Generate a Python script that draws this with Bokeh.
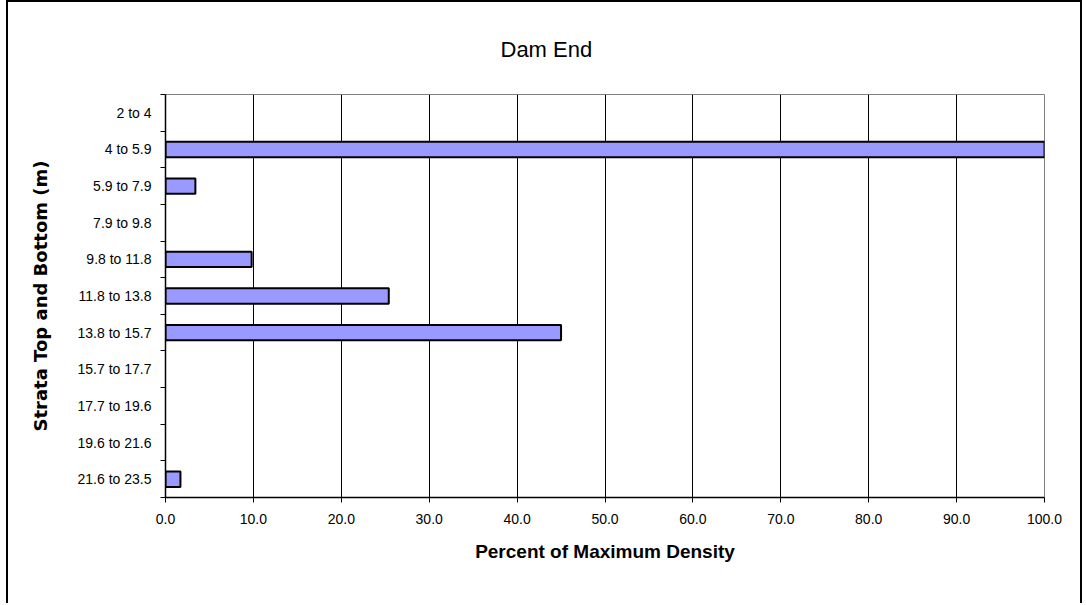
from bokeh.plotting import figure
from bokeh.models import (FixedTicker, NumeralTickFormatter, Range1d, Title,
                          ColumnDataSource)
from bokeh.embed import file_html
from bokeh.resources import INLINE

# ---- data ----
categories = ["2 to 4", "4 to 5.9", "5.9 to 7.9", "7.9 to 9.8", "9.8 to 11.8",
              "11.8 to 13.8", "13.8 to 15.7", "15.7 to 17.7", "17.7 to 19.6",
              "19.6 to 21.6", "21.6 to 23.5"]
values = [0.0, 100.0, 3.4, 0.0, 9.8, 25.4, 45.0, 0.0, 0.0, 0.0, 1.7]
x_ticks = [0, 10, 20, 30, 40, 50, 60, 70, 80, 90, 100]

n = len(categories)
ypos = [n - i - 0.5 for i in range(n)]          # top category first
bounds = list(range(0, n + 1))
outline = ["black" if v > 0 else None for v in values]

src = ColumnDataSource(dict(y=ypos, v=values, cat=categories, lc=outline))

FONT = "Liberation Sans"

p = figure(width=1076, height=603, output_backend="svg", toolbar_location=None,
           x_range=Range1d(0, 100), y_range=Range1d(0, n),
           min_border_left=157, min_border_right=40, min_border_top=91,
           min_border_bottom=108)
p.styles = {"margin-left": "6px", "border-left": "2px solid black",
            "border-top": "2px solid black", "border-right": "2px solid black"}
p.background_fill_color = "white"
p.border_fill_color = "white"
p.outline_line_color = "#808080"
p.outline_line_width = 1

p.hbar(y="y", right="v", left=0, height=0.42, source=src,
       fill_color="#9999FF", line_color="lc", line_width=2)

# title
p.add_layout(Title(text="Dam End", align="left", offset=335, standoff=65,
                   text_font=FONT, text_font_size="22px",
                   text_font_style="normal", text_color="black"), "above")

# x axis
xa = p.xaxis[0]
xa.ticker = FixedTicker(ticks=x_ticks)
xa.formatter = NumeralTickFormatter(format="0.0")
xa.axis_label = "Percent of Maximum Density"
xa.axis_label_text_font = FONT
xa.axis_label_text_font_size = "19px"
xa.axis_label_text_font_style = "bold"
xa.axis_label_text_color = "black"
xa.axis_label_standoff = 14
xa.major_label_text_font = FONT
xa.major_label_text_font_size = "14px"
xa.major_label_text_color = "black"
xa.major_label_standoff = 11
xa.major_tick_out = 5
xa.major_tick_in = 0
xa.minor_tick_line_color = None
xa.axis_line_color = "black"
xa.axis_line_width = 1.5
xa.major_tick_line_color = "black"

# y axis
ya = p.yaxis[0]
ya.ticker = FixedTicker(ticks=ypos, minor_ticks=bounds)
ya.major_label_overrides = {y: c for y, c in zip(ypos, categories)}
ya.axis_label = "Strata Top and Bottom (m)"
ya.axis_label_text_font = "DejaVu Sans"
ya.axis_label_text_font_size = "18px"
ya.axis_label_text_font_style = "bold"
ya.axis_label_text_color = "black"
ya.axis_label_standoff = 24
ya.major_label_text_font = FONT
ya.major_label_text_font_size = "14px"
ya.major_label_text_color = "black"
ya.major_label_standoff = 9
ya.major_tick_line_color = None
ya.major_tick_out = 0
ya.major_tick_in = 0
ya.minor_tick_out = 5
ya.minor_tick_in = 0
ya.minor_tick_line_color = "black"
ya.axis_line_color = "black"
ya.axis_line_width = 1.5

p.xgrid.ticker = FixedTicker(ticks=x_ticks)
p.xgrid.grid_line_color = "black"
p.xgrid.grid_line_width = 1
p.ygrid.grid_line_color = None

open("out.html", "w").write(file_html(p, INLINE))
